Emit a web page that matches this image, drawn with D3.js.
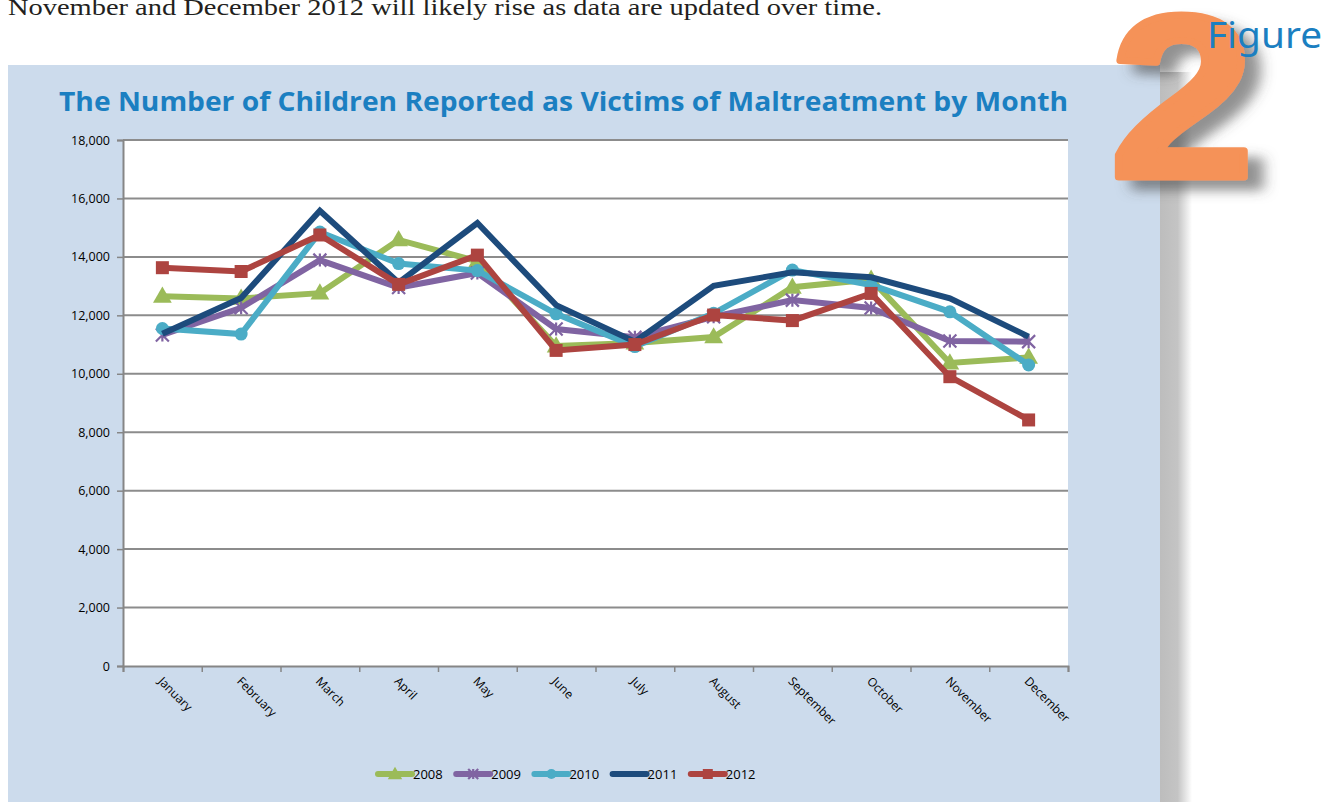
<!DOCTYPE html>
<html>
<head>
<meta charset="utf-8">
<script src="https://cdn.jsdelivr.net/npm/d3@7"></script>
<style>
  html, body { margin: 0; padding: 0; background: #fff; }
  svg { display: block; }
</style>
</head>
<body>
<svg id="chart" width="1337" height="802"></svg>
<script>
/******************************* Data *******************************/

var months = ["January", "February", "March", "April", "May", "June",
              "July", "August", "September", "October", "November", "December"];

var years = ["2008", "2009", "2010", "2011", "2012"];

var v2008 = [12650, 12580, 12760, 14580, 13850, 10950, 11050, 11260, 12960, 13230, 10370, 10560];
var v2009 = [11330, 12260, 13890, 12950, 13450, 11530, 11250, 11950, 12520, 12250, 11120, 11100];
var v2010 = [11550, 11360, 14850, 13770, 13530, 12050, 10930, 12070, 13550, 13040, 12120, 10300];
var v2011 = [11370, 12590, 15580, 13120, 15160, 12350, 11100, 13010, 13470, 13300, 12580, 11270];
var v2012 = [13630, 13500, 14750, 13060, 14060, 10800, 11000, 12010, 11820, 12750, 9900, 8420];

var yTicks = [0, 2000, 4000, 6000, 8000, 10000, 12000, 14000, 16000, 18000];

var seriesColors = ["#9BBB59", "#8064A2", "#4BACC6", "#1D4B7C", "#AD4440"];
var seriesMarkers = ["triangle", "star", "circle", "none", "square"];

var series = years.map(function(y, i){
  return { name: y, values: [v2008, v2009, v2010, v2011, v2012][i], color: seriesColors[i], marker: seriesMarkers[i] };
});

/******************************* Layout *******************************/

var svg = d3.select("#chart");
var plot = { left: 123, right: 1068, top: 140, bottom: 666 };
var axisFont = "'Open Sans', 'DejaVu Sans', sans-serif";

var defs = svg.append("defs");

var shadow2 = defs.append("filter").attr("id", "shadow2")
  .attr("x", "-30%").attr("y", "-30%").attr("width", "170%").attr("height", "170%");
shadow2.append("feGaussianBlur").attr("in", "SourceAlpha").attr("stdDeviation", 6).attr("result", "blur");
shadow2.append("feOffset").attr("in", "blur").attr("dx", 14).attr("dy", 10).attr("result", "off");
shadow2.append("feFlood").attr("flood-color", "#4a4a4a").attr("flood-opacity", 0.6);
shadow2.append("feComposite").attr("in2", "off").attr("operator", "in").attr("result", "sh");
var merge = shadow2.append("feMerge");
merge.append("feMergeNode").attr("in", "sh");
merge.append("feMergeNode").attr("in", "SourceGraphic");

var sideGrad = defs.append("linearGradient").attr("id", "sideGrad");
sideGrad.append("stop").attr("offset", "0%").attr("stop-color", "#bdbdbd");
sideGrad.append("stop").attr("offset", "55%").attr("stop-color", "#c4c4c4");
sideGrad.append("stop").attr("offset", "100%").attr("stop-color", "#ffffff");

/*************************** Header text ***************************/

svg.append("text")
  .attr("x", 8).attr("y", 15)
  .attr("textLength", 874).attr("lengthAdjust", "spacingAndGlyphs")
  .style("font-family", "'Liberation Serif', 'DejaVu Serif', serif")
  .style("font-size", "24px").style("fill", "#231f20")
  .text("November and December 2012 will likely rise as data are updated over time.");

/*************************** Panel + shadow ***************************/

svg.append("rect").attr("x", 1160).attr("y", 72).attr("width", 32).attr("height", 730).attr("fill", "url(#sideGrad)");
svg.append("rect").attr("x", 8).attr("y", 65).attr("width", 1152).attr("height", 737).attr("fill", "#CCDBEC");

/*************************** Figure 2 badge ***************************/

svg.append("text")
  .attr("transform", "translate(1182,177) scale(1.12,1)")
  .attr("text-anchor", "middle")
  .attr("filter", "url(#shadow2)")
  .style("font-family", "'Liberation Sans', Arial, sans-serif")
  .style("font-weight", "bold").style("font-size", "232px")
  .style("fill", "#F59258").style("stroke", "#F59258").style("stroke-width", 7).style("stroke-linejoin", "round")
  .text("2");

svg.append("text")
  .attr("x", 1207).attr("y", 48)
  .attr("textLength", 115).attr("lengthAdjust", "spacingAndGlyphs")
  .style("font-family", "'Noto Sans', 'Open Sans', sans-serif")
  .style("font-size", "37px").style("fill", "#1B7FC1")
  .text("Figure");

/*************************** Title ***************************/

svg.append("text")
  .attr("x", 59).attr("y", 111)
  .attr("textLength", 1009).attr("lengthAdjust", "spacingAndGlyphs")
  .style("font-family", "'Open Sans', sans-serif")
  .style("font-weight", "bold").style("font-size", "27px").style("fill", "#1B7FC1")
  .text("The Number of Children Reported as Victims of Maltreatment by Month");

/*************************** Scales ***************************/

var x = d3.scaleBand().domain(months).range([plot.left, plot.right]);
var y = d3.scaleLinear().domain([0, 18000]).range([plot.bottom, plot.top]);
var xEdge = d3.scaleLinear().domain([0, months.length]).range([plot.left, plot.right]);
var cx = function(m){ return x(m) + x.bandwidth() / 2; };

svg.append("rect")
  .attr("x", plot.left).attr("y", plot.top)
  .attr("width", plot.right - plot.left).attr("height", plot.bottom - plot.top)
  .attr("fill", "#ffffff");

// grid
svg.append("g").selectAll("line").data(yTicks.filter(function(d){ return d > 0; })).enter().append("line")
  .attr("x1", plot.left).attr("x2", plot.right)
  .attr("y1", function(d){ return y(d); }).attr("y2", function(d){ return y(d); })
  .attr("stroke", "#8c8c8c").attr("stroke-width", 2);

/*************************** Axes ***************************/

var yAxis = svg.append("g").attr("transform", "translate(" + plot.left + ",0)")
  .call(d3.axisLeft(y).tickValues(yTicks).tickSize(6).tickPadding(7).tickFormat(d3.format(",")));
yAxis.select(".domain").attr("stroke", "#868686").attr("stroke-width", 2);
yAxis.selectAll(".tick line").attr("stroke", "#868686").attr("stroke-width", 1.5);
yAxis.selectAll("text").style("font-family", axisFont).style("font-size", "12.5px").style("fill", "#000");

var xTicks = svg.append("g").attr("transform", "translate(0," + plot.bottom + ")")
  .call(d3.axisBottom(xEdge).tickValues(d3.range(months.length + 1)).tickSize(6).tickFormat(""));
xTicks.select(".domain").attr("stroke", "#868686").attr("stroke-width", 2);
xTicks.selectAll(".tick line").attr("stroke", "#868686").attr("stroke-width", 1.5);

var xLabels = svg.append("g").attr("transform", "translate(0," + plot.bottom + ")")
  .call(d3.axisBottom(x).tickSize(0).tickPadding(0));
xLabels.select(".domain").remove();
xLabels.selectAll("text")
  .attr("x", 0).attr("y", 0).attr("dy", "0")
  .attr("text-anchor", "start")
  .attr("transform", "translate(-5,16) rotate(45)")
  .style("font-family", axisFont).style("font-size", "12px").style("fill", "#000");

/*************************** Lines + markers ***************************/

var line = d3.line()
  .x(function(d, i){ return cx(months[i]); })
  .y(function(d){ return y(d); });

function drawMarker(g, type, color, px, py, s){
  if(type == "triangle"){
    g.append("path").attr("d", d3.symbol().type(d3.symbolTriangle).size(s * s * 0.9)())
      .attr("transform", "translate(" + px + "," + (py + 1) + ")").attr("fill", color);
  }
  if(type == "circle"){
    g.append("circle").attr("cx", px).attr("cy", py).attr("r", s / 2).attr("fill", color);
  }
  if(type == "square"){
    g.append("rect").attr("x", px - s / 2).attr("y", py - s / 2).attr("width", s).attr("height", s).attr("fill", color);
  }
  if(type == "star"){
    var h = s / 2;
    g.append("path")
      .attr("d", "M" + (px - h) + "," + (py - h) + "L" + (px + h) + "," + (py + h) +
                 "M" + (px - h) + "," + (py + h) + "L" + (px + h) + "," + (py - h) +
                 "M" + px + "," + (py - h) + "L" + px + "," + (py + h))
      .attr("stroke", color).attr("stroke-width", 2.2).attr("fill", "none");
  }
}

series.forEach(function(s){
  var g = svg.append("g");
  g.append("path").datum(s.values)
    .attr("d", line)
    .attr("fill", "none").attr("stroke", s.color)
    .attr("stroke-width", 6).attr("stroke-linejoin", "miter").attr("stroke-linecap", "butt");
  s.values.forEach(function(v, i){
    drawMarker(g, s.marker, s.color, cx(months[i]), y(v), 13);
  });
});

/*************************** Legend ***************************/

var legend = svg.append("g").attr("transform", "translate(378,774)");
series.forEach(function(s, i){
  var item = legend.append("g").attr("transform", "translate(" + (i * 78.2) + ",0)");
  item.append("line").attr("x1", 0).attr("x2", 34).attr("y1", 0).attr("y2", 0)
    .attr("stroke", s.color).attr("stroke-width", 6).attr("stroke-linecap", "round");
  drawMarker(item, s.marker, s.color, 17, 0, 10);
  item.append("text").attr("x", 35).attr("y", 5)
    .style("font-family", axisFont).style("font-size", "13px").style("fill", "#000")
    .text(s.name);
});
</script>
</body>
</html>
